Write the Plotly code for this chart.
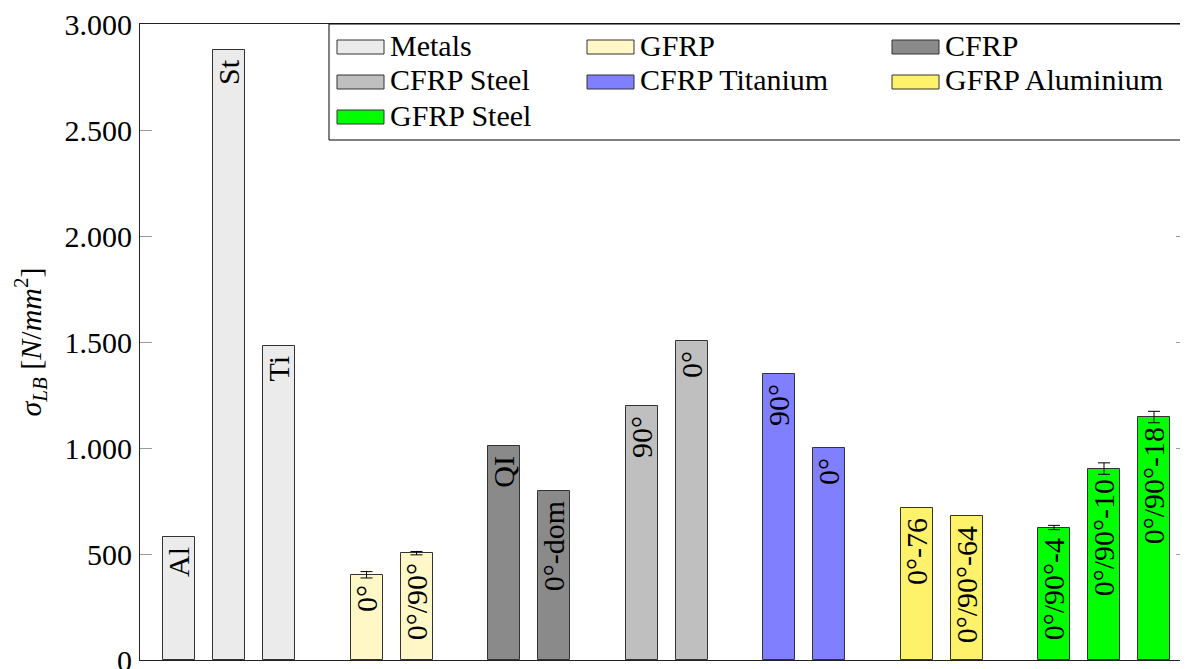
import plotly.graph_objects as go

# ---------------- data ----------------
groups = ["Metals", "GFRP", "CFRP", "CFRP Steel", "CFRP Titanium", "GFRP Aluminium", "GFRP Steel"]

metals_labels = ["Al", "St", "Ti"]
metals_values = [578, 2878, 1481]

gfrp_labels = ["0°", "0°/90°"]
gfrp_values = [402, 504]
gfrp_errors = [15, 8]

cfrp_labels = ["QI", "0°-dom"]
cfrp_values = [1009, 799]

cfrp_steel_labels = ["90°", "0°"]
cfrp_steel_values = [1200, 1507]

cfrp_ti_labels = ["90°", "0°"]
cfrp_ti_values = [1350, 1000]

gfrp_al_labels = ["0°-76", "0°/90°-64"]
gfrp_al_values = [717, 681]

gfrp_steel_labels = ["0°/90°-4", "0°/90°-10", "0°/90°-18"]
gfrp_steel_values = [625, 903, 1146]
gfrp_steel_errors = [10, 27, 27]

y_tick_values = [0, 500, 1000, 1500, 2000, 2500, 3000]
y_tick_labels = ["0", "500", "1.000", "1.500", "2.000", "2.500", "3.000"]

# ---------------- styles ----------------
colors = ["#ebebeb", "#fff8c6", "#8a8a8a", "#bfbfbf", "#8080ff", "#fff26b", "#00ff00"]
FONT = "Liberation Serif"
FS = 30

series = [
    (metals_labels, metals_values, None),
    (gfrp_labels, gfrp_values, gfrp_errors),
    (cfrp_labels, cfrp_values, None),
    (cfrp_steel_labels, cfrp_steel_values, None),
    (cfrp_ti_labels, cfrp_ti_values, None),
    (gfrp_al_labels, gfrp_al_values, None),
    (gfrp_steel_labels, gfrp_steel_values, gfrp_steel_errors),
]

GROUP_GAP = 1.75
fig = go.Figure()
start = 0.0
for name, color, (labs, vals, errs) in zip(groups, colors, series):
    xs = [start + i for i in range(len(vals))]
    kw = {}
    if errs is not None:
        kw["error_y"] = dict(type="data", array=errs, color="black", thickness=1, width=6)
    fig.add_trace(go.Bar(
        x=xs, y=vals, name=name, text=[l + "\u00a0" for l in labs],
        marker=dict(color=color, line=dict(color="#333333", width=1)),
        width=0.64,
        textposition="inside", insidetextanchor="end", textangle=-90,
        constraintext="none", cliponaxis=False,
        textfont=dict(family=FONT, size=FS, color="black"),
        showlegend=False, **kw))
    start = xs[-1] + GROUP_GAP

# ---------------- layout ----------------
# page body has an 8px default margin: compensate so the plot lands at 140..1188 x 24..660
OFF = 8
W, H = 1188 - OFF, 669 - OFF
L, R, T, B = 140 - OFF, 0, 24 - OFF, 9
pw, ph = W - L - R, H - T - B

def px(x):
    return (x - OFF - L) / pw

def py(y):
    return 1 - (y - OFF - T) / ph

x_left = -(179 - 140) / 50.0
x_right = x_left + pw / 50.0

fig.update_layout(
    width=W, height=H,
    margin=dict(l=L, r=R, t=T, b=B, autoexpand=False),
    plot_bgcolor="white", paper_bgcolor="white",
    font=dict(family=FONT, size=FS, color="black"),
    bargap=0,
    xaxis=dict(range=[x_left, x_right], showticklabels=False, ticks="",
               showgrid=False, zeroline=False, showline=True, automargin=False,
               linecolor="#222222", linewidth=1, mirror=True),
    yaxis=dict(range=[0, 3000], tickvals=y_tick_values, ticktext=y_tick_labels,
               ticks="inside", ticklen=12, tickcolor="#9a9a9a", tickwidth=1,
               showgrid=False, zeroline=False, showline=True, automargin=False,
               linecolor="#222222", linewidth=1, mirror="ticks",
               ticklabelstandoff=1, ticklabeloverflow="allow",
               tickfont=dict(family=FONT, size=FS),
               title=dict(text="<i>σ</i><sub><i>LB</i></sub> [<i>N</i>/<i>mm</i><sup>2</sup>]",
                          font=dict(family=FONT, size=FS), standoff=14)),
)

# ---------------- legend (3 columns, pgfplots style) ----------------
shapes = [dict(type="rect", xref="paper", yref="paper",
               x0=px(329), x1=px(1210), y0=py(24), y1=py(140),
               fillcolor="white", line=dict(color="black", width=1), layer="above")]
annotations = []
col_x = [337, 587, 892]
row_y = [47, 82, 117]
for k, (name, color) in enumerate(zip(groups, colors)):
    r, c = divmod(k, 3)
    x0 = col_x[c]
    yc = row_y[r]
    shapes.append(dict(type="rect", xref="paper", yref="paper",
                       x0=px(x0), x1=px(x0 + 47), y0=py(yc + 7), y1=py(yc - 7),
                       fillcolor=color, line=dict(color="#333333", width=1), layer="above"))
    annotations.append(dict(xref="paper", yref="paper", x=px(x0 + 51), y=py(yc - 2),
                            xanchor="left", yanchor="middle", showarrow=False,
                            text=name, font=dict(family=FONT, size=FS, color="black")))

fig.update_layout(shapes=shapes, annotations=annotations)

fig.write_html("out.html")
